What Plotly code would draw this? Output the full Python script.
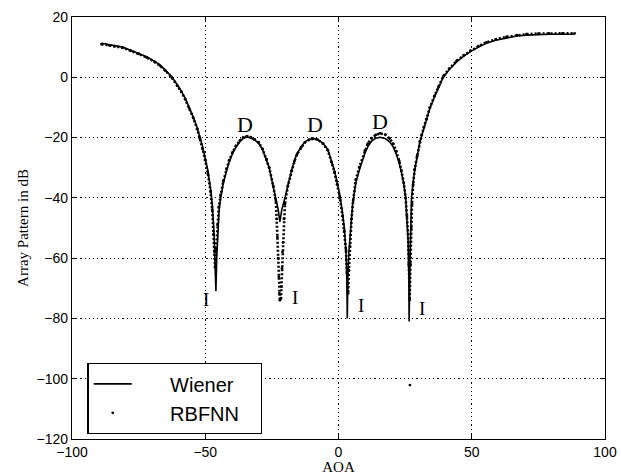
import plotly.graph_objects as go

# ---- data ----
aoa_wiener = [-88.9, -86, -84, -81, -78, -75, -72, -69, -67, -65, -62.6, -60.5, -59, -57.5, -56,
              -54.5, -53, -52, -51, -50, -49, -48, -47.3, -46.7, -46.2, -46.0, -45.7, -45.3, -44.8,
              -44.2, -43.2, -42, -41, -39.7, -38.5, -37, -35.8, -34.5, -33, -31.5, -30, -28.5, -27,
              -26, -24.5, -23.5, -22.6, -22.0, -21.3, -20.1, -19, -17.6, -16.5, -15.5, -14, -12.6,
              -11, -9.5, -8, -5.8, -4, -2.6, -1.5, -0.5, 0.5, 1.5, 2.2, 2.8, 3.1, 3.3, 3.5, 3.9,
              4.6, 5.3, 6.5, 7.8, 9.9, 11, 12.4, 14, 15.6, 17.5, 19.2, 20.5, 21.7, 22.8, 23.6, 24.5,
              25.2, 25.7, 26.1, 26.4, 26.5, 26.8, 27.1, 27.4, 28, 28.6, 29.5, 30.5, 31.2, 32, 33,
              34.3, 36, 37.5, 39.3, 41.5, 44.3, 47, 49.5, 52.5, 55.5, 59, 63, 67, 70.5, 75, 79, 84,
              88.6]
wiener_db = [11.3, 10.9, 10.6, 10.0, 9.0, 8.0, 6.8, 5.3, 4.1, 2.4, 0.2, -2.5, -4.5, -7.0, -10.0,
             -13.2, -16.8, -19.7, -23.0, -27.0, -31.0, -37.0, -43, -52, -62, -71, -60, -50, -44,
             -40, -35, -31, -28, -25.2, -23.2, -21.4, -20.3, -19.8, -20.1, -20.8, -21.8, -24.0,
             -27.4, -30.0, -36.3, -40, -44, -48, -44, -40, -35.5, -30.8, -27.5, -25.2, -23, -21.4,
             -20.6, -20.3, -20.5, -21.9, -24, -28, -31, -35, -39, -45, -50, -58, -66, -80, -66, -58,
             -50, -42, -35, -30.8, -25.2, -23, -21.2, -20.2, -19.9, -20.3, -21.4, -23.0, -25.5,
             -28.5, -31.5, -35.5, -40, -46, -54, -66, -81, -62, -48, -40, -35, -30.8, -26.5, -21.5,
             -19.5, -17, -14.2, -10.3, -6.5, -3.5, 0.0, 2.5, 5.1, 7.0, 8.5, 10.0, 11.3, 12.3, 13.1,
             13.7, 14.0, 14.2, 14.3, 14.3, 14.3]

aoa_rbfnn = [-88.9, -86, -84, -81, -78, -75, -72, -69, -67, -65, -62.6, -60.5, -59, -57.5, -56,
             -54.5, -53, -52, -51, -50, -49, -48, -47.4, -46.9, -46.5, -46.3, -45.9, -45.4, -44.9,
             -44.2, -43.2, -42, -41, -39.7, -38.5, -37, -35.8, -34.5, -33, -31.5, -30, -28.5, -27,
             -26, -24.5, -23.5, -23.2, -22.9, -22.6, -22.4, -22.2, -22.0, -21.6, -21.4, -21.2,
             -21.0, -20.8, -20.5, -20.1, -19, -17.6, -16.5, -15.5, -14, -12.6, -11, -9.5, -8, -5.8,
             -4, -2.6, -1.5, -0.5, 0.5, 1.5, 2.2, 2.8, 3.2, 3.6, 3.9, 4.3, 4.9, 5.5, 6.5, 7.8, 9.9,
             11, 12.4, 14, 15.6, 17.5, 19.2, 20.5, 21.7, 22.8, 23.6, 24.5, 25.2, 25.7, 26.1, 26.4,
             26.7, 27.0, 27.3, 27.6, 28, 28.6, 29.5, 30.5, 31.2, 32, 33, 34.3, 36, 37.5, 39.3,
             41.5, 44.3, 47, 49.5, 52.5, 55.5, 59, 63, 67, 70.5, 75, 79, 84, 88.6]
rbfnn_db = [11.0, 10.6, 10.3, 9.8, 8.8, 7.8, 6.6, 5.1, 3.9, 2.2, 0.0, -2.8, -4.8, -7.3, -10.3,
            -13.5, -17.2, -20.3, -23.8, -27.5, -32.0, -38.0, -44, -52, -58, -63, -57, -49, -43,
            -39, -34.5, -30.5, -27.5, -24.8, -22.8, -21.0, -20.0, -19.6, -19.9, -20.6, -21.6,
            -23.8, -27.2, -30.0, -36.0, -41, -47, -53, -60, -66.2, -71.7, -74, -73.3, -69.5,
            -63.4, -58, -54.8, -47, -42, -36, -31, -27.8, -25.4, -23.2, -21.6, -20.7, -20.4, -20.6,
            -22.0, -24.2, -28.2, -31.5, -35.5, -40, -46, -51, -57.3, -65, -71.7, -64, -56, -47,
            -41, -34, -29.8, -24.3, -22.0, -20.2, -19.1, -18.6, -19.0, -20.3, -22.0, -24.6, -27.8,
            -31.0, -35.0, -40, -46, -52, -62, -73.9, -62, -50, -42, -35.5, -30.5, -26.2, -21.3,
            -19.2, -16.7, -13.9, -10.0, -6.2, -3.2, 0.3, 2.8, 5.4, 7.3, 8.8, 10.3, 11.6, 12.6,
            13.4, 14.0, 14.3, 14.5, 14.6, 14.6, 14.6]

rbfnn_stray_aoa = [26.8]
rbfnn_stray_db = [-102.1]

x_ticks = [-100, -50, 0, 50, 100]
y_ticks = [20, 0, -20, -40, -60, -80, -100, -120]

d_marks_aoa = [-35.1, -8.8, 15.6]
d_marks_db = [-15.8, -15.8, -14.7]
i_marks_aoa = [-49.9, -16.2, 8.4, 31.4]
i_marks_db = [-73.7, -73.2, -75.6, -76.7]

pad = "\u00a0" * 6
tail = "<span style='color:white'>\u00a0\u00a0.</span>"
fig = go.Figure()

fig.add_trace(go.Scatter(x=aoa_wiener, y=wiener_db, mode="lines", name=pad + "Wiener",
                         line=dict(color="black", width=1.6)))
fig.add_trace(go.Scatter(x=aoa_rbfnn, y=rbfnn_db, mode="lines", showlegend=False,
                         line=dict(color="black", width=2.6, dash="2px,2px"), hoverinfo="skip"))
fig.add_trace(go.Scatter(x=aoa_rbfnn + rbfnn_stray_aoa, y=rbfnn_db + rbfnn_stray_db,
                         mode="markers", name=pad + "RBFNN" + tail,
                         marker=dict(color="black", size=2.8)))

for xa, ya in zip(d_marks_aoa, d_marks_db):
    fig.add_annotation(x=xa, y=ya, text="D", showarrow=False,
                       font=dict(family="Liberation Serif", size=22, color="black"))
for xa, ya in zip(i_marks_aoa, i_marks_db):
    fig.add_annotation(x=xa, y=ya, text="I", showarrow=False,
                       font=dict(family="Liberation Serif", size=19, color="black"))

axis_common = dict(showline=True, linecolor="black", linewidth=1.3, mirror="ticks",
                   ticks="inside", ticklen=5, tickcolor="black", tickwidth=1,
                   showgrid=True, gridcolor="black", gridwidth=1.2, griddash="1.2px,3px",
                   zeroline=False, automargin=False,
                   tickfont=dict(family="Liberation Sans", size=14, color="black"))

fig.update_xaxes(range=[-100, 100], tickvals=x_ticks, **axis_common,
                 title=dict(text="AOA", standoff=3,
                            font=dict(family="Liberation Serif", size=15, color="black")))
fig.update_yaxes(range=[-120, 20], tickvals=y_ticks, **axis_common,
                 title=dict(text="Array Pattern in dB", standoff=4,
                            font=dict(family="Liberation Serif", size=15, color="black")))

fig.update_layout(
    width=621, height=475,
    margin=dict(l=72, r=16, t=17, b=36),
    paper_bgcolor="white", plot_bgcolor="white",
    showlegend=True,
    legend=dict(x=0.029, y=0.18, xanchor="left", yanchor="top",
                bgcolor="white", bordercolor="black", borderwidth=1.3,
                font=dict(family="Liberation Sans", size=20, color="black"),
                itemwidth=38, tracegroupgap=0),
)

fig.write_html("out.html")
